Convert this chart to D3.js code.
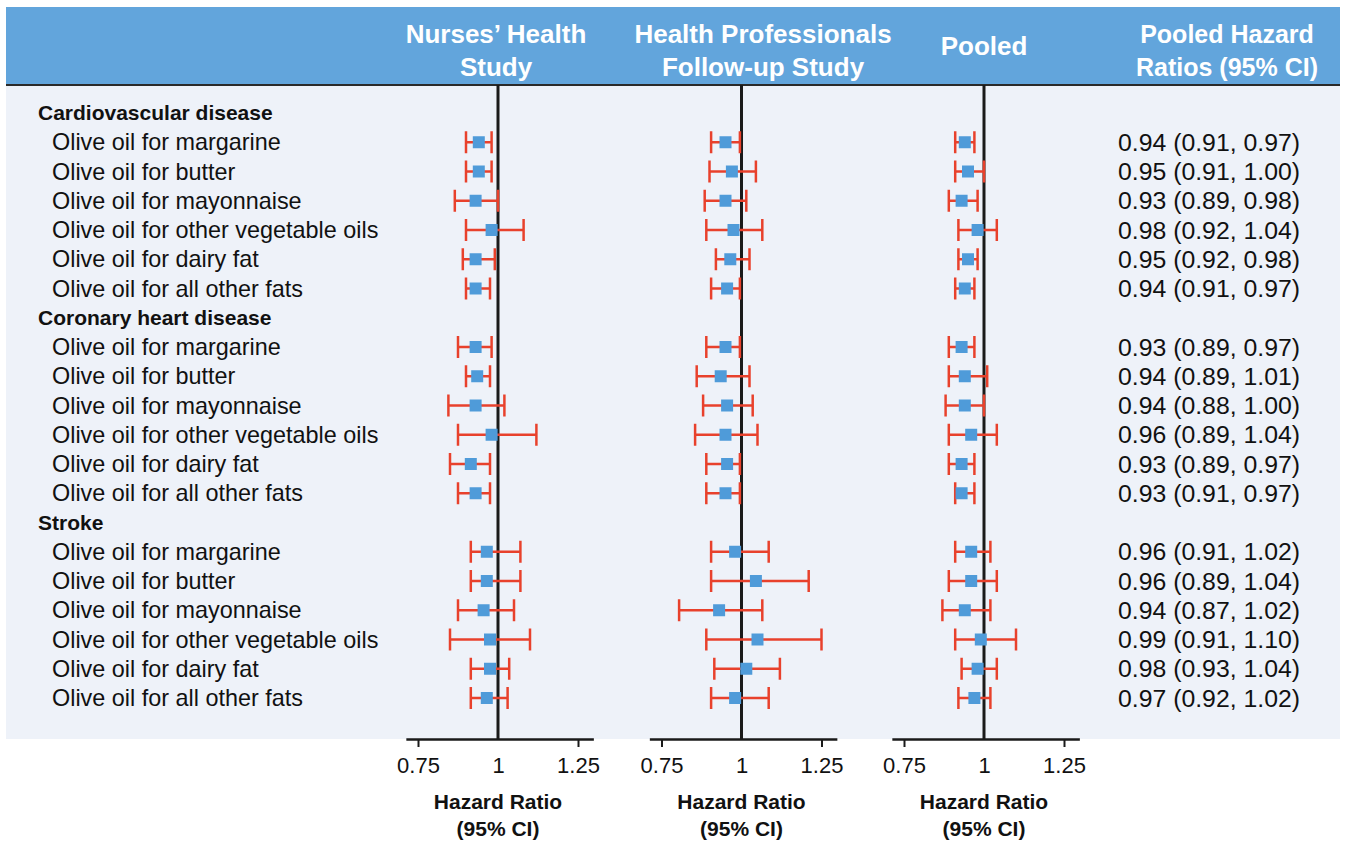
<!DOCTYPE html>
<html>
<head>
<meta charset="utf-8">
<script src="https://cdn.jsdelivr.net/npm/d3@7"></script>
<style>
  html, body { margin: 0; padding: 0; background: #fff; }
  svg { display: block; font-family: "Liberation Sans", Arial, sans-serif; }
</style>
</head>
<body>
<div id="chart"></div>
<script>
// outcome groups and the fat substitutions listed under each
const categories = ['Cardiovascular disease', 'Coronary heart disease', 'Stroke'];
const substitutions = [
  'Olive oil for margarine',
  'Olive oil for butter',
  'Olive oil for mayonnaise',
  'Olive oil for other vegetable oils',
  'Olive oil for dairy fat',
  'Olive oil for all other fats'
];

// Nurses' Health Study, 18 rows: CVD x6, CHD x6, stroke x6
const nhsHR = [0.94, 0.94, 0.93, 0.98, 0.93, 0.93,
               0.93, 0.935, 0.93, 0.98, 0.915, 0.93,
               0.965, 0.965, 0.955, 0.975, 0.975, 0.965];
const nhsLo = [0.90, 0.90, 0.865, 0.90, 0.89, 0.90,
               0.875, 0.90, 0.845, 0.875, 0.85, 0.875,
               0.915, 0.915, 0.875, 0.85, 0.915, 0.915];
const nhsHi = [0.98, 0.98, 1.00, 1.08, 0.99, 0.975,
               0.98, 0.975, 1.02, 1.12, 0.975, 0.975,
               1.07, 1.07, 1.05, 1.10, 1.035, 1.03];

// Health Professionals Follow-up Study
const hpfsHR = [0.95, 0.97, 0.95, 0.975, 0.965, 0.955,
                0.95, 0.935, 0.955, 0.95, 0.955, 0.95,
                0.98, 1.045, 0.93, 1.05, 1.015, 0.98];
const hpfsLo = [0.905, 0.90, 0.885, 0.89, 0.92, 0.905,
                0.89, 0.86, 0.88, 0.855, 0.89, 0.89,
                0.905, 0.905, 0.805, 0.89, 0.915, 0.905];
const hpfsHi = [0.995, 1.045, 1.015, 1.065, 1.025, 0.995,
                0.995, 1.025, 1.035, 1.05, 0.995, 0.995,
                1.085, 1.21, 1.065, 1.25, 1.12, 1.085];

// pooled estimates (from the right-hand column)
const pooledHR = [0.94, 0.95, 0.93, 0.98, 0.95, 0.94,
                  0.93, 0.94, 0.94, 0.96, 0.93, 0.93,
                  0.96, 0.96, 0.94, 0.99, 0.98, 0.97];
const pooledLo = [0.91, 0.91, 0.89, 0.92, 0.92, 0.91,
                  0.89, 0.89, 0.88, 0.89, 0.89, 0.91,
                  0.91, 0.89, 0.87, 0.91, 0.93, 0.92];
const pooledHi = [0.97, 1.00, 0.98, 1.04, 0.98, 0.97,
                  0.97, 1.01, 1.00, 1.04, 0.97, 0.97,
                  1.02, 1.04, 1.02, 1.10, 1.04, 1.02];

const panelTitles = [
  ['Nurses\u2019 Health', 'Study'],
  ['Health Professionals', 'Follow-up Study'],
  ['Pooled']
];
const tableTitle = ['Pooled Hazard', 'Ratios (95% CI)'];
const tickValues = [0.75, 1, 1.25];
const axisTitle = ['Hazard Ratio', '(95% CI)'];

const W = 1346, H = 842;
const C = {
  header: '#62a5dc',
  body: '#eef2f9',
  red: '#e8412c',
  box: '#4f9bd9',
  ink: '#1a1a1a'
};

const svg = d3.select('#chart').append('svg')
  .attr('width', W)
  .attr('height', H);

// rows: one line per category header followed by its 6 substitutions
const rows = [];
categories.forEach((cat, ci) => {
  rows.push({ key: 'h' + ci, label: cat, header: true });
  substitutions.forEach((s, si) => {
    const i = ci * 6 + si;
    rows.push({ key: 'r' + i, label: s, header: false, i });
  });
});
const dataRows = rows.filter(r => !r.header);

const y = d3.scalePoint()
  .domain(rows.map(r => r.key))
  .range([113, 698]);

const headerTop = 7, headerBottom = 85, axisY = 739;

// backgrounds
svg.append('rect')
  .attr('x', 6).attr('y', headerBottom)
  .attr('width', 1334).attr('height', axisY - headerBottom)
  .attr('fill', C.body);
svg.append('rect')
  .attr('x', 6).attr('y', headerTop)
  .attr('width', 1334).attr('height', headerBottom - headerTop)
  .attr('fill', C.header);
svg.append('line')
  .attr('x1', 6).attr('x2', 1340)
  .attr('y1', headerBottom).attr('y2', headerBottom)
  .attr('stroke', '#2a2a2a').attr('stroke-width', 2);

// row labels
svg.append('g').selectAll('text')
  .data(rows)
  .join('text')
  .attr('x', d => d.header ? 38 : 52)
  .attr('y', d => y(d.key))
  .attr('dy', '0.35em')
  .attr('font-size', d => d.header ? 21 : 23.4)
  .attr('font-weight', d => d.header ? 'bold' : 'normal')
  .attr('fill', '#111')
  .text(d => d.label);

// pooled column text
svg.append('g').selectAll('text')
  .data(dataRows)
  .join('text')
  .attr('x', 1118)
  .attr('y', d => y(d.key))
  .attr('dy', '0.35em')
  .attr('font-size', 24.8)
  .attr('fill', '#111')
  .text(d => `${pooledHR[d.i].toFixed(2)} (${pooledLo[d.i].toFixed(2)}, ${pooledHi[d.i].toFixed(2)})`);

// header titles
function titleBlock(lines, cx, size) {
  const g = svg.append('g');
  const lh = 33;
  const y0 = lines.length === 1 ? 55 : 43;
  lines.forEach((t, k) => {
    g.append('text')
      .attr('x', cx).attr('y', y0 + k * lh)
      .attr('text-anchor', 'middle')
      .attr('font-size', size)
      .attr('font-weight', 'bold')
      .attr('fill', '#fff')
      .text(t);
  });
}
titleBlock(tableTitle, 1227, 25);

// forest panels
const panels = [
  { one: 498, title: panelTitles[0], titleX: 496, hr: nhsHR, lo: nhsLo, hi: nhsHi },
  { one: 741.5, title: panelTitles[1], titleX: 763, hr: hpfsHR, lo: hpfsLo, hi: hpfsHi },
  { one: 984, title: panelTitles[2], titleX: 984, hr: pooledHR, lo: pooledLo, hi: pooledHi }
];
const pxPerUnit = 320;
const capH = 22, boxS = 12;

panels.forEach(p => {
  const x = d3.scaleLinear()
    .domain([0.712, 1.298])
    .range([p.one - 0.288 * pxPerUnit, p.one + 0.298 * pxPerUnit]);

  titleBlock(p.title, p.titleX, 26);

  const g = svg.append('g');

  // reference line at HR = 1
  g.append('line')
    .attr('x1', x(1)).attr('x2', x(1))
    .attr('y1', headerBottom).attr('y2', axisY)
    .attr('stroke', C.ink).attr('stroke-width', 3);

  const ci = g.append('g').selectAll('g')
    .data(dataRows)
    .join('g')
    .attr('transform', d => `translate(0,${y(d.key)})`);

  ci.append('line')
    .attr('x1', d => x(p.lo[d.i])).attr('x2', d => x(p.hi[d.i]))
    .attr('stroke', C.red).attr('stroke-width', 2.5);
  ci.selectAll('line.cap')
    .data(d => [p.lo[d.i], p.hi[d.i]])
    .join('line')
    .attr('class', 'cap')
    .attr('x1', v => x(v)).attr('x2', v => x(v))
    .attr('y1', -capH / 2).attr('y2', capH / 2)
    .attr('stroke', C.red).attr('stroke-width', 2.5);
  ci.append('rect')
    .attr('x', d => x(p.hr[d.i]) - boxS / 2)
    .attr('y', -boxS / 2)
    .attr('width', boxS).attr('height', boxS)
    .attr('fill', C.box);

  // axis
  const ax = svg.append('g')
    .attr('transform', `translate(0,${axisY})`)
    .call(d3.axisBottom(x).tickValues(tickValues).tickSize(8).tickSizeOuter(0).tickFormat(d => String(d)));
  ax.select('.domain').attr('stroke', C.ink).attr('stroke-width', 2.5);
  ax.selectAll('.tick line')
    .attr('stroke', C.ink).attr('stroke-width', 2)
    .attr('display', d => d === 1 ? 'none' : null);
  ax.selectAll('.tick text')
    .attr('font-size', 22)
    .attr('font-family', '"Liberation Sans", Arial, sans-serif')
    .attr('fill', '#111')
    .attr('y', 18);

  axisTitle.forEach((t, k) => {
    svg.append('text')
      .attr('x', x(1)).attr('y', 809 + k * 27)
      .attr('text-anchor', 'middle')
      .attr('font-size', 21)
      .attr('font-weight', 'bold')
      .attr('fill', '#111')
      .text(t);
  });
});
</script>
</body>
</html>
